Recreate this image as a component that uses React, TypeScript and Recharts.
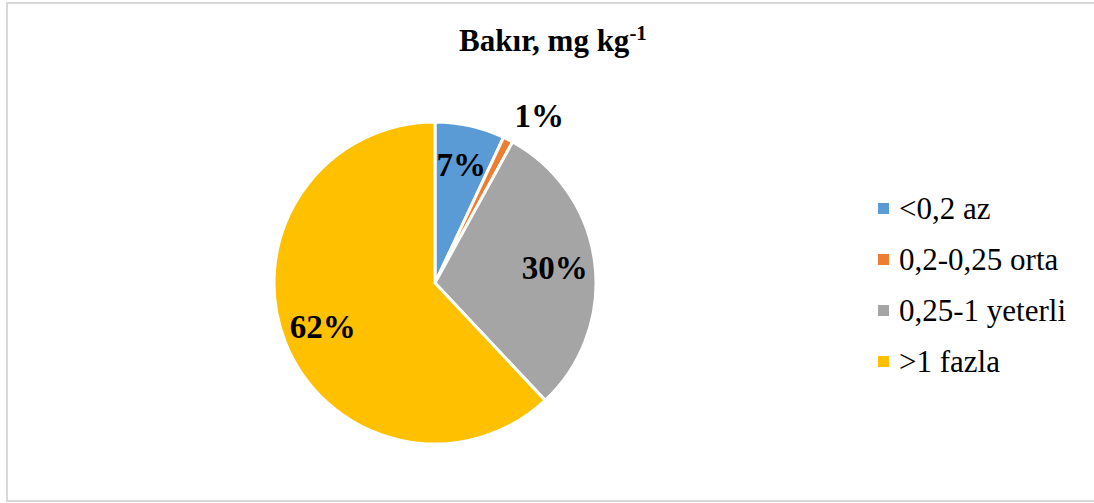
import { Cell, Legend, Pie, PieChart } from "recharts";

// Bakır (copper) class distribution, share of samples in %
const CLASSES = ["<0,2 az", "0,2-0,25 orta", "0,25-1 yeterli", ">1 fazla"];
const SHARES = [7, 1, 30, 62];
const COLORS = ["#5B9BD5", "#ED7D31", "#A5A5A5", "#FFC000"];

const FONT = '"Liberation Serif", "Times New Roman", serif';
const RADIAN = Math.PI / 180;

const data = CLASSES.map((name, i) => ({ name, value: SHARES[i] }));

function renderLabel(props: any) {
  const { cx, cy, midAngle, outerRadius, percent } = props;
  const text = `${Math.round(percent * 100)}%`;
  if (percent < 0.03) {
    // small slice: label sits outside the edge
    const r = outerRadius + 14;
    const x = cx + r * Math.cos(-midAngle * RADIAN);
    const y = cy + r * Math.sin(-midAngle * RADIAN);
    return (
      <text x={x} y={y} textAnchor="start" fontFamily={FONT} fontSize={33} fontWeight="bold" fill="#000">
        {text}
      </text>
    );
  }
  const r = outerRadius * 0.75;
  const x = cx + r * Math.cos(-midAngle * RADIAN);
  const y = cy + r * Math.sin(-midAngle * RADIAN);
  return (
    <text x={x} y={y} textAnchor="middle" dominantBaseline="central" fontFamily={FONT} fontSize={33} fontWeight="bold" fill="#000">
      {text}
    </text>
  );
}

// legend drawn in the original series order
function LegendList() {
  return (
    <div style={{ fontFamily: FONT, fontSize: 31, color: "#000" }}>
      {CLASSES.map((name, i) => (
        <div key={name} style={{ display: "flex", alignItems: "center", height: 51, whiteSpace: "nowrap" }}>
          <span style={{ display: "inline-block", width: 11, height: 11, background: COLORS[i], marginRight: 10 }} />
          <span>{name}</span>
        </div>
      ))}
    </div>
  );
}

export default function App() {
  return (
    <div style={{ position: "fixed", left: 0, top: 0, width: 1094, height: 503, overflow: "hidden", background: "#fff" }}>
      <div
        style={{
          position: "absolute",
          left: 6,
          top: 2,
          width: 1200,
          height: 500,
          boxSizing: "border-box",
          border: "2px solid #d9d9d9",
        }}
      />
      <div
        style={{
          position: "absolute",
          left: 0,
          width: 1094,
          top: 21,
          textAlign: "center",
          fontFamily: FONT,
          fontSize: 31,
          fontWeight: "bold",
          paddingLeft: 12,
          boxSizing: "border-box",
        }}
      >
        Bakır, mg kg<sup style={{ fontSize: 21 }}>-1</sup>
      </div>
      <div style={{ position: "absolute", left: 0, top: 0 }}>
        <PieChart width={1094} height={503} margin={{ top: 0, right: 0, bottom: 0, left: 0 }}>
          <Pie
            data={data}
            dataKey="value"
            nameKey="name"
            cx={435}
            cy={283}
            outerRadius={161}
            startAngle={90}
            endAngle={-270}
            stroke="#fff"
            strokeWidth={3}
            label={renderLabel}
            labelLine={false}
            isAnimationActive={false}
          >
            {data.map((d, i) => (
              <Cell key={d.name} fill={COLORS[i]} />
            ))}
          </Pie>
          <Legend
            layout="vertical"
            content={<LegendList />}
            wrapperStyle={{ left: 878, top: 183, width: 216 }}
          />
        </PieChart>
      </div>
    </div>
  );
}
